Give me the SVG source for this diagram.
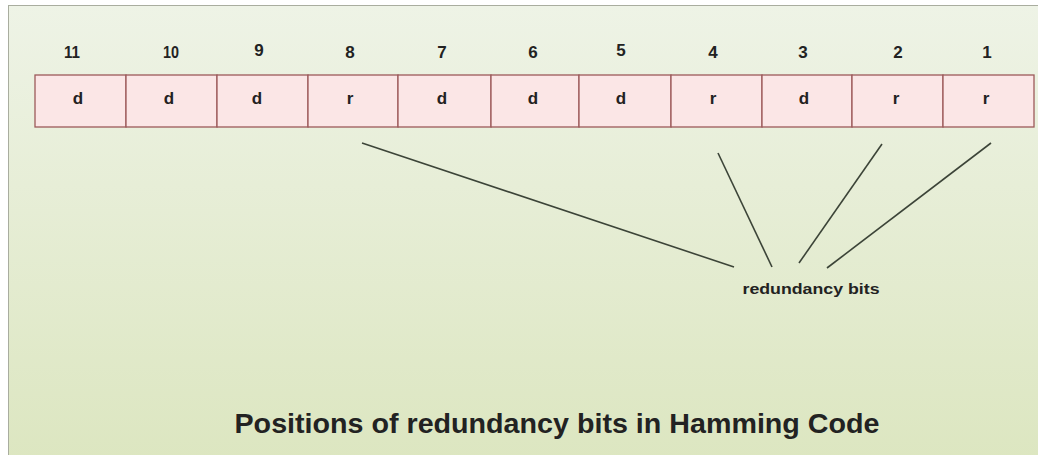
<svg xmlns="http://www.w3.org/2000/svg" width="1038" height="455" viewBox="0 0 1038 455">
<defs>
<linearGradient id="bg" x1="0" y1="0" x2="0" y2="1">
<stop offset="0" stop-color="#eef3e6"/>
<stop offset="1" stop-color="#dce6c0"/>
</linearGradient>
<style>
.cell rect{fill:#fbe6e6;stroke:#9c5a5a;stroke-width:1.3}
.t{font-family:"Liberation Sans",Arial,sans-serif;font-weight:bold;fill:#222;text-anchor:middle}
.num{font-size:17px}
.bit{font-size:17px}
.conn line{stroke:#3c4438;stroke-width:1.6}
</style>
</defs>
<rect x="0" y="0" width="1038" height="455" fill="#ffffff"/>
<rect x="8.5" y="5.5" width="1040" height="460" fill="url(#bg)" stroke="#a9ad9f" stroke-width="1"/>
<g id="labels">
<text class="t num" x="72" y="58" textLength="16" lengthAdjust="spacingAndGlyphs">11</text>
<text class="t num" x="171" y="58" textLength="16" lengthAdjust="spacingAndGlyphs">10</text>
<text class="t num" x="259" y="56">9</text>
<text class="t num" x="350" y="58">8</text>
<text class="t num" x="442" y="58">7</text>
<text class="t num" x="533" y="58">6</text>
<text class="t num" x="621" y="56">5</text>
<text class="t num" x="713" y="58">4</text>
<text class="t num" x="803" y="58">3</text>
<text class="t num" x="898" y="58">2</text>
<text class="t num" x="987" y="58">1</text>
</g>
<g id="cell11" class="cell"><rect x="35" y="75" width="91" height="52"/><text class="t bit" x="78" y="104">d</text></g>
<g id="cell10" class="cell"><rect x="126" y="75" width="91" height="52"/><text class="t bit" x="169" y="104">d</text></g>
<g id="cell9" class="cell"><rect x="217" y="75" width="91" height="52"/><text class="t bit" x="257" y="104">d</text></g>
<g id="cell8" class="cell"><rect x="308" y="75" width="90" height="52"/><text class="t bit" x="350" y="104">r</text></g>
<g id="cell7" class="cell"><rect x="398" y="75" width="93" height="52"/><text class="t bit" x="442" y="104">d</text></g>
<g id="cell6" class="cell"><rect x="491" y="75" width="88" height="52"/><text class="t bit" x="533" y="104">d</text></g>
<g id="cell5" class="cell"><rect x="579" y="75" width="92" height="52"/><text class="t bit" x="621" y="104">d</text></g>
<g id="cell4" class="cell"><rect x="671" y="75" width="91" height="52"/><text class="t bit" x="713" y="104">r</text></g>
<g id="cell3" class="cell"><rect x="762" y="75" width="90" height="52"/><text class="t bit" x="804" y="104">d</text></g>
<g id="cell2" class="cell"><rect x="852" y="75" width="91" height="52"/><text class="t bit" x="896" y="104">r</text></g>
<g id="cell1" class="cell"><rect x="943" y="75" width="91" height="52"/><text class="t bit" x="986" y="104">r</text></g>
<g id="connectors" class="conn">
<line x1="362" y1="143" x2="734" y2="267"/>
<line x1="718" y1="153" x2="772" y2="267"/>
<line x1="882" y1="144" x2="799" y2="263"/>
<line x1="991" y1="143" x2="827" y2="268"/>
</g>
<g id="redundancy-label"><text class="t" x="811" y="294" font-size="15.5" textLength="137" lengthAdjust="spacingAndGlyphs">redundancy bits</text></g>
<g id="title"><text class="t" x="557" y="433" font-size="28" textLength="645" lengthAdjust="spacingAndGlyphs">Positions of redundancy bits in Hamming Code</text></g>
</svg>
